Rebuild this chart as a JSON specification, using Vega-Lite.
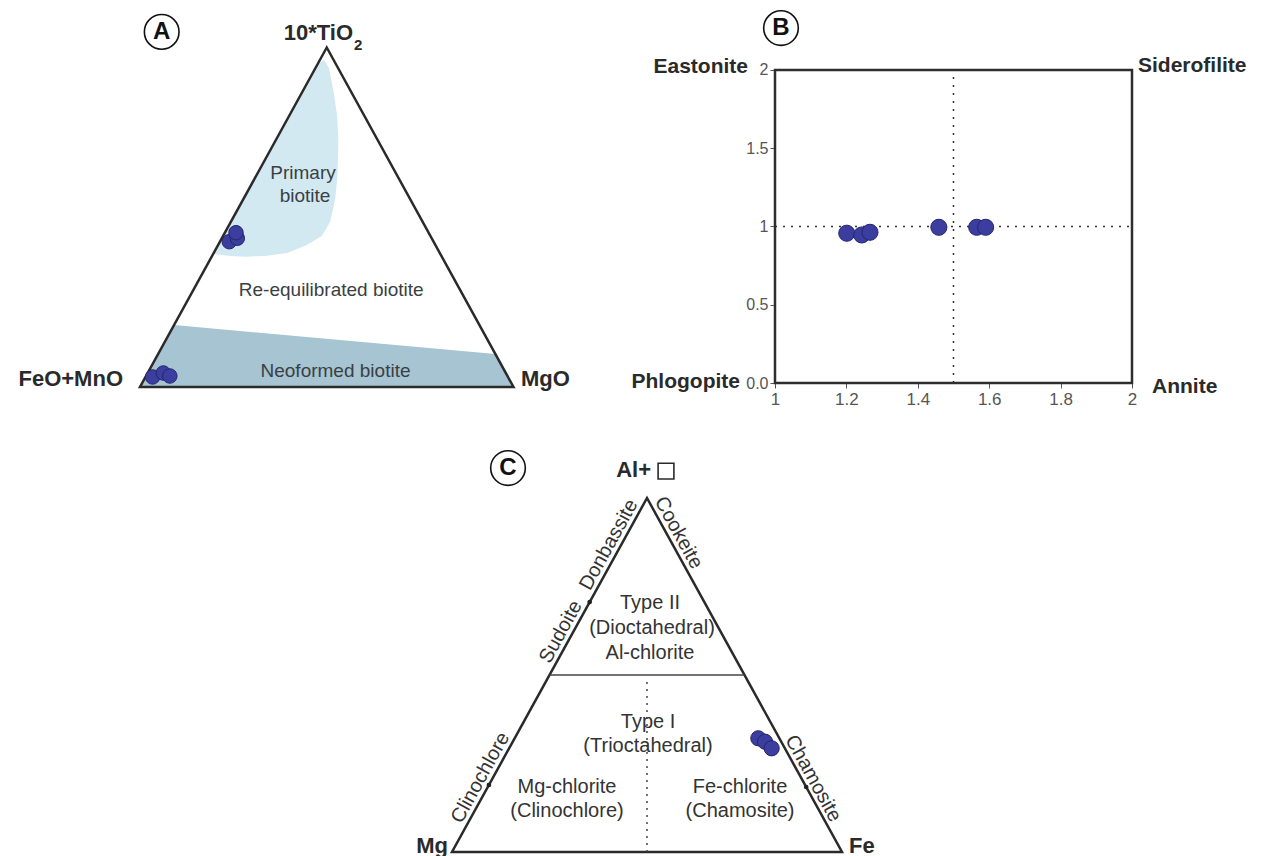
{
  "$schema": "https://vega.github.io/schema/vega-lite/v6.json",
  "padding": 0,
  "background": "white",
  "config": {"view": {"stroke": null}, "font": "Liberation Sans"},
  "datasets": {
    "tri": [
      {"u": 0, "v": 0, "i": 0}, {"u": 100, "v": 0, "i": 1}, {"u": 50, "v": 100, "i": 2},
      {"u": 0, "v": 0, "i": 3}, {"u": 100, "v": 0, "i": 4}
    ]
  },
  "spacing": 0,
  "bounds": "flush",
  "align": "none",
  "columns": 2,
  "concat": [
    {
      "width": 775,
      "height": 383,
      "encoding": {
        "x": {"field": "u", "type": "quantitative", "scale": {"domain": [-37.483, 170.013], "nice": false, "zero": false}, "axis": null},
        "y": {"field": "v", "type": "quantitative", "scale": {"domain": [1.178, 113.99], "nice": false, "zero": false}, "axis": null}
      },
      "layer": [
        {
          "data": {"values": [
            {"u": 0, "v": 0, "i": 0}, {"u": 100, "v": 0, "i": 1},
            {"u": 95.14, "v": 9.72, "i": 2}, {"u": 9.13, "v": 18.26, "i": 3}
          ]},
          "mark": {"type": "line", "fill": "#a6c4d1", "stroke": "transparent", "strokeWidth": 0},
          "encoding": {"order": {"field": "i", "type": "quantitative"}}
        },
        {
          "data": {"values": [
            {"u": 47.6, "v": 95.2, "i": 0}, {"u": 49.3, "v": 96.3, "i": 1}, {"u": 50.6, "v": 94.0, "i": 2},
            {"u": 51.75, "v": 87.5, "i": 3}, {"u": 52.75, "v": 80.1, "i": 4}, {"u": 53.1, "v": 72.75, "i": 5},
            {"u": 53.0, "v": 66.9, "i": 6}, {"u": 52.8, "v": 61.0, "i": 7}, {"u": 52.2, "v": 55.1, "i": 8},
            {"u": 50.9, "v": 48.6, "i": 9}, {"u": 48.7, "v": 44.5, "i": 10}, {"u": 44.7, "v": 41.8, "i": 11},
            {"u": 39.4, "v": 39.5, "i": 12}, {"u": 33.5, "v": 38.6, "i": 13}, {"u": 28.4, "v": 38.4, "i": 14},
            {"u": 24.1, "v": 38.6, "i": 15}, {"u": 19.6, "v": 39.2, "i": 16}
          ]},
          "mark": {"type": "line", "fill": "#d3e9f2", "stroke": "transparent", "strokeWidth": 0},
          "encoding": {"order": {"field": "i", "type": "quantitative"}}
        },
        {
          "data": {"name": "tri"},
          "mark": {"type": "line", "color": "#2a2a2a", "strokeWidth": 2.5, "strokeJoin": "miter"},
          "encoding": {"order": {"field": "i", "type": "quantitative"}}
        },
        {
          "data": {"values": [
            {"u": 43.64, "v": 63.18, "t": "Primary"},
            {"u": 44.18, "v": 56.26, "t": "biotite"},
            {"u": 51.2, "v": 28.57, "t": "Re-equilibrated biotite"},
            {"u": 52.34, "v": 4.71, "t": "Neoformed biotite"}
          ]},
          "mark": {"type": "text", "fontSize": 19, "color": "#3a3f44", "align": "center", "baseline": "middle"},
          "encoding": {"text": {"field": "t"}}
        },
        {
          "data": {"values": [
            {"u": -4.55, "v": 2.36, "t": "FeO+MnO"},
            {"u": 57.03, "v": 104.27, "t": "10*TiO"}
          ]},
          "mark": {"type": "text", "fontSize": 22, "fontWeight": "bold", "color": "#2a2a2a", "align": "right", "baseline": "middle"},
          "encoding": {"text": {"field": "t"}}
        },
        {
          "data": {"values": [{"u": 102.0, "v": 2.36, "t": "MgO"}]},
          "mark": {"type": "text", "fontSize": 22, "fontWeight": "bold", "color": "#2a2a2a", "align": "left", "baseline": "middle"},
          "encoding": {"text": {"field": "t"}}
        },
        {
          "data": {"values": [{"u": 57.3, "v": 100.7, "t": "2"}]},
          "mark": {"type": "text", "fontSize": 15, "fontWeight": "bold", "color": "#2a2a2a", "align": "left", "baseline": "middle"},
          "encoding": {"text": {"field": "t"}}
        },
        {
          "data": {"values": [
            {"u": 23.9, "v": 42.8}, {"u": 26.05, "v": 43.8}, {"u": 25.7, "v": 45.45},
            {"u": 3.37, "v": 2.95}, {"u": 6.24, "v": 4.12}, {"u": 7.98, "v": 3.24}
          ]},
          "mark": {"type": "point", "filled": true, "size": 210, "color": "#3b3e9e", "stroke": "#23266e", "strokeWidth": 1, "opacity": 1}
        },
        {
          "data": {"values": [{"u": 5.81, "v": 104.6, "t": "A"}]},
          "layer": [
            {"mark": {"type": "point", "shape": "circle", "filled": true, "color": "white", "stroke": "#111111", "strokeWidth": 1.6, "size": 1200, "opacity": 1}},
            {"mark": {"type": "text", "fontSize": 24, "fontWeight": "bold", "color": "#111111", "align": "center", "baseline": "middle"}, "encoding": {"text": {"field": "t"}}}
          ]
        }
      ]
    },
    {
      "width": 357,
      "height": 383,
      "encoding": {
        "x": {
          "field": "x", "type": "quantitative",
          "scale": {"domain": [1, 2], "nice": false, "zero": false},
          "axis": {"values": [1, 1.2, 1.4, 1.6, 1.8, 2], "format": "~g", "domain": false, "grid": false, "title": null,
                   "tickSize": 5, "tickColor": "#555555", "labelColor": "#555555", "labelFontSize": 17, "labelFont": "Liberation Sans Narrow, Liberation Sans", "labelFlush": false, "labelPadding": 3}
        },
        "y": {
          "field": "y", "type": "quantitative",
          "scale": {"domain": [0, 2.44728], "nice": false, "zero": false},
          "axis": {"values": [0, 0.5, 1, 1.5, 2], "labelExpr": "datum.value == 0 ? '0.0' : format(datum.value, '~g')", "domain": false, "grid": false, "title": null,
                   "tickSize": 5, "tickColor": "#555555", "labelColor": "#555555", "labelFontSize": 16, "labelFont": "Liberation Sans Narrow, Liberation Sans", "labelFlush": false, "labelPadding": 2}
        }
      },
      "layer": [
        {
          "data": {"values": [
            {"x": 1.5, "y": 0, "x2": 1.5, "y2": 2},
            {"x": 1, "y": 1, "x2": 2, "y2": 1}
          ]},
          "mark": {"type": "rule", "color": "#333333", "strokeWidth": 1.5, "strokeDash": [2, 6]},
          "encoding": {"x2": {"field": "x2"}, "y2": {"field": "y2"}}
        },
        {
          "data": {"values": [{"x": 1, "y": 0, "x2": 2, "y2": 2}]},
          "mark": {"type": "rect", "filled": false, "color": "#2e2e2e", "strokeWidth": 2.5},
          "encoding": {"x2": {"field": "x2"}, "y2": {"field": "y2"}}
        },
        {
          "data": {"values": [
            {"x": 1.201, "y": 0.957}, {"x": 1.243, "y": 0.946}, {"x": 1.266, "y": 0.963},
            {"x": 1.459, "y": 0.995}, {"x": 1.565, "y": 0.995}, {"x": 1.59, "y": 0.995}
          ]},
          "mark": {"type": "point", "filled": true, "size": 260, "color": "#3b3e9e", "stroke": "#23266e", "strokeWidth": 1, "opacity": 1}
        },
        {
          "data": {"values": [
            {"x": 0.9244, "y": 2.019, "t": "Eastonite"},
            {"x": 0.902, "y": 0.006, "t": "Phlogopite"}
          ]},
          "mark": {"type": "text", "fontSize": 21, "fontWeight": "bold", "color": "#2a2a2a", "align": "right", "baseline": "middle"},
          "encoding": {"text": {"field": "t"}}
        },
        {
          "data": {"values": [
            {"x": 2.0168, "y": 2.0256, "t": "Siderofilite"},
            {"x": 2.056, "y": -0.0256, "t": "Annite"}
          ]},
          "mark": {"type": "text", "fontSize": 21, "fontWeight": "bold", "color": "#2a2a2a", "align": "left", "baseline": "middle"},
          "encoding": {"text": {"field": "t"}}
        },
        {
          "data": {"values": [{"x": 1.0168, "y": 2.268, "t": "B"}]},
          "layer": [
            {"mark": {"type": "point", "shape": "circle", "filled": true, "color": "white", "stroke": "#111111", "strokeWidth": 1.6, "size": 1200, "opacity": 1}},
            {"mark": {"type": "text", "fontSize": 24, "fontWeight": "bold", "color": "#111111", "align": "center", "baseline": "middle"}, "encoding": {"text": {"field": "t"}}}
          ]
        }
      ]
    },
    {
      "width": 775,
      "height": 473,
      "encoding": {
        "x": {"field": "u", "type": "quantitative", "scale": {"domain": [-115.897, 82.821], "nice": false, "zero": false}, "axis": null},
        "y": {"field": "v", "type": "quantitative", "scale": {"domain": [-1.13, 132.486], "nice": false, "zero": false}, "axis": null}
      },
      "layer": [
        {
          "data": {"name": "tri"},
          "mark": {"type": "line", "color": "#2a2a2a", "strokeWidth": 2.5, "strokeJoin": "miter"},
          "encoding": {"order": {"field": "i", "type": "quantitative"}}
        },
        {
          "data": {"values": [{"u": 25, "v": 50, "u2": 75, "v2": 50}]},
          "mark": {"type": "rule", "color": "#444444", "strokeWidth": 1.5},
          "encoding": {"x2": {"field": "u2"}, "y2": {"field": "v2"}}
        },
        {
          "data": {"values": [{"u": 50, "v": 0, "u2": 50, "v2": 48.6}]},
          "mark": {"type": "rule", "color": "#444444", "strokeWidth": 1.5, "strokeDash": [2, 5]},
          "encoding": {"x2": {"field": "u2"}, "y2": {"field": "v2"}}
        },
        {
          "data": {"values": [
            {"u": 50.77, "v": 70.34, "t": "Type II"},
            {"u": 51.28, "v": 63.28, "t": "(Dioctahedral)"},
            {"u": 50.77, "v": 56.21, "t": "Al-chlorite"},
            {"u": 50.26, "v": 36.72, "t": "Type I"},
            {"u": 50.26, "v": 29.94, "t": "(Trioctahedral)"},
            {"u": 29.49, "v": 18.36, "t": "Mg-chlorite"},
            {"u": 29.49, "v": 11.58, "t": "(Clinochlore)"},
            {"u": 73.85, "v": 18.36, "t": "Fe-chlorite"},
            {"u": 73.85, "v": 11.58, "t": "(Chamosite)"}
          ]},
          "mark": {"type": "text", "fontSize": 20, "color": "#333333", "align": "center", "baseline": "middle"},
          "encoding": {"text": {"field": "t"}}
        },
        {
          "data": {"values": [
            {"u": 27.9, "v": 62.2, "t": "Sudoite"},
            {"u": 40.2, "v": 86.8, "t": "Donbassite"},
            {"u": 7.28, "v": 20.99, "t": "Clinochlore"}
          ]},
          "mark": {"type": "text", "fontSize": 20, "color": "#333333", "align": "center", "baseline": "middle", "angle": -61.15},
          "encoding": {"text": {"field": "t"}}
        },
        {
          "data": {"values": [
            {"u": 58.1, "v": 90.2, "t": "Cookeite"},
            {"u": 92.6, "v": 20.8, "t": "Chamosite"}
          ]},
          "mark": {"type": "text", "fontSize": 20, "color": "#333333", "align": "center", "baseline": "middle", "angle": 61.15},
          "encoding": {"text": {"field": "t"}}
        },
        {
          "data": {"values": [
            {"u": 51.03, "v": 107.9, "t": "Al+"},
            {"u": -1.03, "v": 1.69, "t": "Mg"}
          ]},
          "mark": {"type": "text", "fontSize": 22, "fontWeight": "bold", "color": "#2a2a2a", "align": "right", "baseline": "middle"},
          "encoding": {"text": {"field": "t"}}
        },
        {
          "data": {"values": [{"u": 101.8, "v": 1.69, "t": "Fe"}]},
          "mark": {"type": "text", "fontSize": 22, "fontWeight": "bold", "color": "#2a2a2a", "align": "left", "baseline": "middle"},
          "encoding": {"text": {"field": "t"}}
        },
        {
          "data": {"values": [{"u": 54.87, "v": 107.6}]},
          "mark": {"type": "point", "shape": "square", "filled": false, "color": "#2a2a2a", "strokeWidth": 1.6, "size": 250, "opacity": 1}
        },
        {
          "data": {"values": [{"u": 35.3, "v": 70.6}, {"u": 9.46, "v": 18.93}, {"u": 90.82, "v": 18.36}]},
          "mark": {"type": "point", "filled": true, "color": "#222222", "size": 22, "opacity": 1}
        },
        {
          "data": {"values": [{"u": 78.54, "v": 32.12}, {"u": 80.26, "v": 31.16}, {"u": 81.97, "v": 29.29}]},
          "mark": {"type": "point", "filled": true, "size": 230, "color": "#3b3e9e", "stroke": "#23266e", "strokeWidth": 1, "opacity": 1}
        },
        {
          "data": {"values": [{"u": 14.36, "v": 108.47, "t": "C"}]},
          "layer": [
            {"mark": {"type": "point", "shape": "circle", "filled": true, "color": "white", "stroke": "#111111", "strokeWidth": 1.6, "size": 1200, "opacity": 1}},
            {"mark": {"type": "text", "fontSize": 24, "fontWeight": "bold", "color": "#111111", "align": "center", "baseline": "middle"}, "encoding": {"text": {"field": "t"}}}
          ]
        }
      ]
    }
  ]
}
